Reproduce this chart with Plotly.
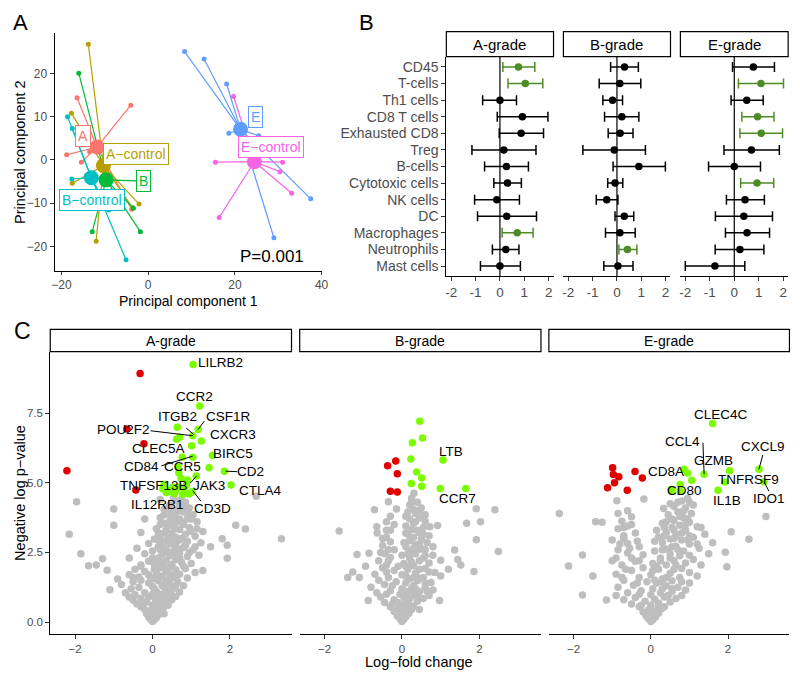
import plotly.graph_objects as go

FONT = "Liberation Sans, Arial, Helvetica, sans-serif"
# The page body has an 8px margin: shift every placement up/left by 8px
OFF = 8
W, H = 800, 676


def pxx(x):
    return (x - OFF) / W


def pxy(y):
    return 1 - (y - OFF) / H


# ---------------- Panel A : PCA ----------------
pca_groups = ["A", "A−control", "B", "B−control", "E", "E−control"]
pca_colors = ["#F8766D", "#B79F00", "#00BA38", "#00BFC4", "#619CFF", "#F564E3"]
pca_centroid_x = [-11.8, -10.3, -9.7, -13.1, 21.3, 24.5]
pca_centroid_y = [3.0, -1.3, -4.6, -4.1, 7.1, -0.4]
pca_x_A = [-16.4, -4.0, -18.8, -15.4, -3.8, -13.5]
pca_y_A = [14.4, 12.7, 1.2, -0.5, -11.4, 1.9]
pca_x_Actl = [-13.8, -17.7, -17.5, -2.1, -12.0, -3.6]
pca_y_Actl = [26.8, 10.8, -5.4, -10.2, -18.8, -11.0]
pca_x_B = [-16.0, -1.8, -12.9, -3.4, -14.2]
pca_y_B = [20.1, -16.6, -16.6, -11.2, -3.6]
pca_x_Bctl = [-18.6, -17.5, -17.6, -5.1, -9.1]
pca_y_Bctl = [10.0, 7.3, -4.4, -23.1, -11.6]
pca_x_E = [8.4, 12.9, 18.1, 18.6, 25.5, 37.5, 29.0]
pca_y_E = [25.1, 23.4, 17.6, 6.2, 5.6, -9.0, -18.0]
pca_x_Ectl = [19.7, 15.5, 31.0, 30.4, 33.1, 16.4]
pca_y_Ectl = [14.7, -0.5, -0.5, -2.7, -7.7, -13.3]
pca_label_x = [-15.0, -2.7, -1.0, -12.9, 24.7, 28.3]
pca_label_y = [5.6, 1.5, -4.9, -9.3, 10.0, 2.9]
pca_pvalue = "P=0.001"

# ---------------- Panel B : forest plots ----------------
cells = ["CD45", "T-cells", "Th1 cells", "CD8 T cells", "Exhausted CD8", "Treg", "B-cells",
         "Cytotoxic cells", "NK cells", "DC", "Macrophages", "Neutrophils", "Mast cells"]
grades = ["A-grade", "B-grade", "E-grade"]
a_est = [0.76, 1.04, 0.00, 0.92, 0.87, 0.16, 0.27, 0.31, -0.13, 0.28, 0.71, 0.24, 0.00]
a_lo = [0.12, 0.33, -0.71, -0.11, -0.03, -1.15, -0.63, -0.25, -1.04, -0.92, 0.09, -0.31, -0.80]
a_hi = [1.43, 1.76, 0.68, 1.97, 1.79, 1.48, 1.17, 0.88, 0.80, 1.50, 1.36, 0.78, 0.84]
a_sig = [1, 1, 0, 0, 0, 0, 0, 0, 0, 0, 1, 0, 0]
b_est = [0.31, 0.12, -0.18, 0.20, 0.13, -0.11, 0.90, -0.08, -0.42, 0.30, 0.12, 0.43, 0.04]
b_lo = [-0.26, -0.73, -0.58, -0.51, -0.36, -1.40, -0.16, -0.38, -0.85, -0.08, -0.47, 0.08, -0.54]
b_hi = [0.88, 0.98, 0.23, 0.90, 0.66, 1.17, 1.99, 0.24, 0.04, 0.69, 0.75, 0.82, 0.66]
b_sig = [0, 0, 0, 0, 0, 0, 0, 0, 0, 0, 0, 1, 0]
e_est = [0.78, 1.09, 0.51, 0.95, 1.10, 0.70, 0.00, 0.93, 0.44, 0.39, 0.52, 0.23, -0.79]
e_lo = [-0.07, 0.17, -0.13, 0.31, 0.23, -0.42, -1.05, 0.26, -0.32, -0.77, -0.36, -0.78, -2.00]
e_hi = [1.64, 2.01, 1.18, 1.62, 1.97, 1.84, 1.07, 1.61, 1.23, 1.56, 1.44, 1.21, 0.43]
e_sig = [0, 1, 0, 1, 1, 0, 0, 1, 0, 0, 0, 0, 0]
forest_ticks = [-2, -1, 0, 1, 2]
forest_ticktext = ["-2", "-1", "0", "1", "2"]

# ---------------- Panel C : volcano plots ----------------
a_gray = [
    (0.0, 0.02), (0.05, 0.08), (-0.05, 0.1), (0.1, 0.15), (-0.1, 0.18), (0.02, 0.22), (0.15, 0.25),
    (-0.15, 0.3), (0.2, 0.32), (0.06, 0.35), (-0.08, 0.4), (0.25, 0.42), (-0.2, 0.45), (0.12, 0.48),
    (-0.3, 0.55), (0.3, 0.55), (0.0, 0.6), (-0.4, 0.65), (0.18, 0.65), (0.4, 0.7), (-0.15, 0.72),
    (-0.5, 0.78), (0.08, 0.8), (0.5, 0.8), (-0.3, 0.85), (0.3, 0.88), (-0.6, 0.9), (0.6, 0.92),
    (0.0, 0.95), (-0.45, 0.98), (0.2, 1.0), (0.45, 1.0),
    (-0.7, 1.05), (-0.2, 1.05), (0.7, 1.08), (0.1, 1.1), (-1.1, 1.16), (0.35, 1.15), (-0.55, 1.2),
    (0.55, 1.22), (-0.35, 1.25), (0.0, 1.28), (0.8, 1.3), (0.25, 1.32), (-0.8, 1.35), (0.45, 1.38),
    (-0.1, 1.4), (0.65, 1.45), (-0.5, 1.45), (0.15, 1.48), (0.35, 1.5),
    (-0.9, 1.55), (0.0, 1.55), (0.9, 1.58), (0.5, 1.6), (-0.35, 1.62), (0.25, 1.65), (-1.17, 1.86),
    (-0.6, 1.7), (0.7, 1.72), (0.1, 1.75), (1.1, 1.78), (0.4, 1.8), (-0.2, 1.82), (0.6, 1.88),
    (-0.45, 1.9), (0.85, 1.92), (0.2, 1.95), (0.3, 1.98), (1.3, 1.85),
    (-1.65, 2.02), (-1.45, 2.05), (-1.29, 2.27), (-0.3, 2.05), (0.05, 2.05), (0.5, 2.08), (1.0, 2.1),
    (0.75, 2.15), (-0.1, 2.18), (0.35, 2.2), (1.93, 2.29), (0.6, 2.25), (0.15, 2.3), (-0.6, 2.3),
    (0.9, 2.35), (0.45, 2.38), (1.2, 2.4), (0.25, 2.42), (-0.2, 2.45), (0.7, 2.48), (-1.85, 2.45),
    (0.0, 2.55), (0.55, 2.55), (0.35, 2.6), (1.05, 2.6), (-0.4, 2.65), (0.8, 2.68), (0.15, 2.7),
    (1.93, 2.76), (0.6, 2.75), (0.45, 2.8), (-0.1, 2.82), (1.25, 2.85), (0.3, 2.88), (0.9, 2.9),
    (0.7, 2.95), (1.8, 2.99), (0.05, 2.98), (1.5, 2.7),
    (0.4, 3.02), (-2.15, 3.15), (0.6, 3.05), (1.1, 3.08), (0.2, 3.1), (0.85, 3.15), (0.5, 3.2),
    (-0.3, 3.22), (1.3, 3.25), (0.35, 3.3), (0.7, 3.32), (0.1, 3.35), (2.4, 3.34), (0.95, 3.4),
    (0.55, 3.45), (-1.0, 3.48), (2.15, 3.48), (3.33, 2.99),
    (0.3, 3.55), (0.75, 3.58), (1.15, 3.6), (0.45, 3.65), (0.9, 3.7), (0.2, 3.75), (0.6, 3.8),
    (1.05, 3.85), (0.4, 3.9), (0.8, 3.95), (-0.2, 3.7),
    (0.55, 4.0), (-1.0, 4.06), (0.3, 4.05), (0.95, 4.1), (0.7, 4.15), (0.45, 4.2), (0.85, 4.3),
    (-1.96, 4.32), (0.6, 4.35), (2.68, 4.52), (0.2, 4.4),
    (0.1, 0.7), (0.35, 0.95), (0.05, 1.2), (0.3, 1.25), (0.15, 1.6), (0.45, 1.7), (0.05, 1.9),
    (0.5, 2.0), (0.2, 2.15), (0.4, 2.5), (0.25, 2.8), (0.55, 3.0), (0.15, 3.2), (0.4, 3.45),
    (0.65, 3.6), (0.5, 3.9), (0.7, 2.3), (0.3, 2.0), (-0.05, 1.6), (0.6, 1.3),
    (0.3, 0.3), (-0.25, 0.6), (0.25, 0.75), (-0.1, 0.9), (0.5, 1.15), (-0.3, 1.5), (0.6, 1.65),
    (-0.1, 1.7), (0.35, 1.85), (0.8, 2.0), (0.1, 2.25), (0.55, 2.4), (0.95, 2.5), (0.2, 2.6),
    (0.65, 2.6), (1.1, 2.7), (0.45, 2.95), (0.75, 3.0), (0.3, 3.2), (1.0, 3.25), (0.6, 3.35),
    (0.8, 3.5), (0.5, 3.6), (1.0, 3.7), (0.3, 3.85), (0.65, 4.0), (0.8, 4.1), (0.4, 4.1),
    (0.55, 4.45), (0.75, 4.4), (0.9, 3.9), (0.15, 2.95), (-0.3, 2.0), (-0.5, 1.6), (0.0, 2.3),
    (0.85, 2.75), (1.15, 3.35), (0.7, 3.7), (0.2, 3.5), (0.0, 1.0), (0.4, 0.6), (0.15, 0.95),
]
a_up = [
    (1.05, 9.25), (1.22, 7.76), (1.18, 6.92), (0.64, 7.0), (1.04, 6.69), (0.70, 6.64), (0.62, 6.57),
    (1.26, 6.5), (1.01, 6.33), (1.55, 5.98), (0.77, 5.92), (1.04, 5.92), (1.46, 5.54), (1.86, 5.42),
    (1.13, 5.25), (2.03, 4.92), (1.02, 4.68), (0.66, 5.57), (0.68, 5.35), (0.74, 5.16), (0.53, 4.85),
    (0.45, 4.73), (0.36, 4.65), (0.57, 4.62), (0.78, 4.58), (0.95, 4.6), (0.87, 4.9), (0.70, 4.85),
    (0.48, 4.68), (0.27, 4.78), (0.6, 4.72), (0.82, 4.75), (0.3, 4.95), (0.9, 5.1),
]
a_down = [(-0.32, 8.93), (-0.66, 6.93), (-0.22, 6.40), (-2.21, 5.43), (-0.43, 4.74)]

b_gray = [
    (0.0, 0.02), (0.05, 0.1), (-0.05, 0.12), (0.1, 0.2), (-0.12, 0.22), (0.0, 0.3), (0.18, 0.32),
    (-0.2, 0.38), (0.08, 0.42), (0.25, 0.45), (-0.1, 0.48),
    (-0.3, 0.55), (0.3, 0.58), (0.0, 0.62), (-0.45, 0.7), (0.15, 0.7), (0.4, 0.75), (-0.87, 0.77),
    (0.97, 0.77), (-0.2, 0.8), (0.55, 0.85), (0.05, 0.88), (-0.55, 0.9), (0.3, 0.95), (-0.05, 1.0),
    (0.7, 0.95),
    (-0.65, 1.05), (0.2, 1.05), (0.45, 1.1), (-0.3, 1.12), (0.8, 1.15), (0.0, 1.2), (-0.8, 1.25),
    (0.6, 1.25), (0.3, 1.3), (-0.45, 1.35), (0.1, 1.4), (0.75, 1.42), (-0.15, 1.45), (0.4, 1.48),
    (-0.6, 1.5),
    (-1.4, 1.6), (-1.1, 1.6), (-1.27, 1.8), (0.2, 1.55), (-0.35, 1.6), (0.55, 1.6), (1.0, 1.65),
    (0.0, 1.7), (-0.7, 1.72), (0.35, 1.75), (0.85, 1.78), (-0.2, 1.85), (0.15, 1.9), (1.86, 1.82),
    (0.6, 1.92), (-0.5, 1.95), (1.2, 1.9),
    (-0.94, 2.0), (0.3, 2.02), (-0.4, 2.05), (1.52, 2.05), (0.05, 2.1), (0.7, 2.12), (-0.6, 2.2),
    (0.45, 2.2), (1.0, 2.22), (1.44, 2.25), (0.2, 2.3), (-0.3, 2.32), (-1.16, 2.43), (-0.85, 2.47),
    (0.6, 2.38), (0.35, 2.45), (-0.45, 2.45),
    (1.36, 2.59), (0.25, 2.55), (-0.35, 2.6), (0.5, 2.62), (2.49, 2.53), (0.1, 2.7), (0.8, 2.7),
    (-0.5, 2.75), (0.35, 2.78), (0.65, 2.85), (-0.3, 2.88), (0.2, 2.92), (1.92, 2.96), (0.5, 2.98),
    (-0.4, 3.05), (0.3, 3.05), (0.7, 3.1), (-0.64, 3.2), (0.15, 3.15), (0.45, 3.22), (-0.3, 3.3),
    (0.25, 3.32), (0.92, 3.47), (0.72, 3.42), (-0.65, 3.42), (0.55, 3.4), (-1.62, 3.27), (0.1, 3.45),
    (1.67, 3.55), (2.03, 3.6), (0.3, 3.55), (-0.4, 3.6), (0.6, 3.62), (0.2, 3.7), (0.45, 3.75),
    (-0.3, 3.8), (0.35, 3.9), (0.15, 3.95), (0.6, 3.85),
    (-0.71, 4.03), (-0.14, 4.06), (1.92, 4.07), (2.4, 4.03), (0.3, 4.05), (0.5, 4.1), (0.2, 4.2),
    (-0.35, 4.32), (0.31, 4.63), (0.4, 4.3), (0.25, 4.45),
    (0.1, 0.55), (0.2, 0.85), (0.1, 1.1), (0.3, 1.6), (0.1, 2.0), (0.4, 2.6), (0.25, 3.0),
    (0.4, 3.3), (0.45, 1.9), (0.15, 2.45), (-0.1, 2.0), (0.35, 1.2), (-0.35, 2.2), (-0.4, 3.3),
    (0.15, 0.3), (-0.25, 0.65), (0.4, 0.95), (-0.4, 1.0), (0.25, 1.2), (0.6, 1.4), (-0.25, 1.3),
    (0.1, 1.65), (0.7, 1.8), (-0.4, 1.8), (0.25, 2.15), (0.55, 2.3), (-0.2, 2.6), (0.3, 2.65),
    (0.6, 2.6), (0.05, 2.85), (0.45, 2.8), (0.1, 3.2), (0.55, 3.15), (0.35, 3.6), (0.45, 4.0),
    (0.1, 3.8), (-0.5, 3.0), (-0.2, 3.5), (0.25, 4.3), (0.8, 2.4), (0.4, 1.6), (0.0, 2.4),
    (-0.55, 2.5), (0.65, 1.1), (-0.1, 0.7), (0.45, 0.45),
]
b_up = [(0.46, 7.21), (0.53, 6.61), (0.27, 6.44), (0.23, 5.86), (1.06, 5.82), (0.38, 5.39),
        (0.51, 5.17), (0.24, 4.98), (0.51, 4.88), (0.99, 4.8), (1.65, 4.8)]
b_down = [(-0.16, 5.78), (-0.37, 5.61), (-0.12, 5.33), (-0.3, 4.7), (-0.12, 4.67)]

e_gray = [
    (0.0, 0.02), (0.05, 0.08), (-0.06, 0.12), (0.12, 0.18), (-0.12, 0.22), (0.02, 0.28), (0.2, 0.32),
    (-0.2, 0.36), (0.1, 0.4), (-0.05, 0.45), (0.28, 0.48),
    (-0.3, 0.55), (0.35, 0.55), (0.0, 0.6), (-0.5, 0.65), (0.2, 0.68), (0.5, 0.72), (-0.15, 0.75),
    (-0.7, 0.8), (-1.15, 0.79), (0.1, 0.82), (0.65, 0.85), (-0.4, 0.88), (0.35, 0.9), (-1.77, 0.97),
    (-0.9, 0.95), (0.8, 0.95), (0.0, 0.98),
    (-0.6, 1.05), (0.25, 1.05), (0.55, 1.1), (-0.25, 1.12), (0.9, 1.15), (0.05, 1.2), (-0.85, 1.25),
    (0.7, 1.25), (0.4, 1.3), (-0.45, 1.32), (0.15, 1.4), (1.0, 1.4), (-0.1, 1.45), (0.55, 1.48),
    (-0.7, 1.5),
    (-1.5, 1.65), (0.3, 1.55), (-0.3, 1.6), (0.75, 1.6), (1.2, 1.65), (0.0, 1.7), (-0.9, 1.72),
    (0.5, 1.75), (1.0, 1.78), (-0.5, 1.85), (0.2, 1.9), (0.8, 1.92), (-0.2, 1.95), (1.97, 1.99),
    (-2.13, 2.01),
    (-0.75, 2.05), (0.4, 2.05), (1.3, 2.05), (0.05, 2.1), (0.9, 2.12), (-0.4, 2.18), (0.6, 2.2),
    (1.1, 2.25), (-0.9, 2.3), (0.25, 2.3), (0.75, 2.38), (1.93, 2.51), (-1.77, 2.41), (-0.2, 2.42),
    (0.5, 2.45), (1.5, 2.45), (-0.6, 2.48),
    (0.1, 2.55), (0.85, 2.55), (-0.85, 2.6), (0.4, 2.62), (1.25, 2.65), (-0.3, 2.7), (0.65, 2.72),
    (1.0, 2.8), (-0.6, 2.82), (0.3, 2.85), (1.6, 2.85), (2.54, 2.97), (0.8, 2.95), (-1.0, 2.95),
    (0.5, 2.98),
    (0.2, 3.05), (1.1, 3.05), (-0.7, 3.1), (0.65, 3.12), (1.4, 3.15), (-0.4, 3.2), (0.4, 3.22),
    (2.08, 3.24), (0.9, 3.3), (-0.85, 3.35), (0.55, 3.4), (1.2, 3.42), (-0.6, 3.45), (0.75, 3.48),
    (-1.43, 3.6), (-1.26, 3.58), (0.3, 3.55), (1.0, 3.58), (-0.75, 3.62), (0.6, 3.65), (0.85, 3.75),
    (-0.5, 3.78), (0.45, 3.85), (2.98, 3.79), (-2.37, 3.9), (1.05, 3.9), (0.7, 3.95), (-0.85, 3.9),
    (0.33, 4.08), (0.9, 4.1), (0.6, 4.15), (-0.88, 4.36), (-0.18, 4.42), (1.0, 4.3), (0.8, 4.35),
    (0.5, 4.25), (0.95, 4.45),
    (0.2, 0.6), (0.3, 1.2), (0.4, 1.6), (0.6, 1.9), (0.15, 2.0), (0.5, 2.3), (0.7, 2.6), (0.6, 3.0),
    (0.8, 3.2), (0.35, 3.4), (0.55, 3.7), (0.9, 3.5), (-0.35, 2.9), (-0.5, 2.3), (0.1, 1.5),
    (-0.65, 1.9), (-0.7, 3.0), (-0.5, 3.5),
    (0.15, 0.3), (-0.25, 0.6), (0.45, 0.95), (-0.3, 1.0), (0.3, 1.45), (0.8, 1.45), (-0.35, 1.4),
    (0.05, 1.85), (0.65, 2.05), (1.0, 2.4), (0.3, 2.6), (0.55, 2.7), (0.95, 2.95), (0.1, 2.9),
    (0.35, 3.1), (1.0, 3.1), (0.6, 3.3), (0.15, 3.3), (0.75, 3.8), (0.95, 3.7), (0.4, 3.6),
    (0.85, 4.0), (-0.6, 4.0), (-0.7, 3.4), (-0.8, 2.8), (-0.55, 2.65), (-1.0, 2.2), (-0.75, 1.6),
    (0.55, 1.2), (0.25, 2.2), (1.2, 2.8), (1.3, 3.4), (-0.3, 2.2), (0.7, 4.3), (1.1, 4.2),
]
e_up = [(1.6, 7.13), (2.04, 5.43), (1.38, 5.31), (0.86, 5.49), (0.95, 5.35), (1.06, 5.09),
        (0.76, 4.94), (0.53, 4.76), (1.74, 4.73), (1.92, 5.03), (2.8, 5.49), (2.93, 5.04),
        (0.53, 4.73), (0.76, 4.7)]
e_down = [(-0.99, 5.54), (-0.97, 5.3), (-0.83, 5.22), (-0.94, 5.0), (-1.12, 4.82), (-0.41, 5.41),
          (-0.22, 5.17), (-0.61, 4.73)]

a_labels = ["LILRB2", "CCR2", "ITGB2", "CSF1R", "POU2F2", "CXCR3", "CLEC5A", "BIRC5", "CD84",
            "CCR5", "CD2", "TNFSF13B", "JAK3", "CTLA4", "IL12RB1", "CD3D"]
a_label_x = [1.75, 1.09, 0.65, 1.95, -0.76, 2.08, 0.15, 2.08, -0.28, 0.77, 2.54, 0.04, 1.46, 2.8, 0.14, 1.54]
a_label_y = [9.32, 8.09, 7.4, 7.4, 6.9, 6.74, 6.25, 6.06, 5.57, 5.57, 5.42, 4.9, 4.9, 4.73, 4.23, 4.08]
a_seg = [((0.87, 6.97), (1.06, 6.74)), ((1.34, 7.22), (1.18, 6.92)), ((-0.05, 6.87), (1.04, 6.69)),
         ((0.23, 5.61), (1.04, 5.96)), ((1.89, 5.42), (2.19, 5.40)), ((0.97, 4.98), (1.14, 5.25)),
         ((1.04, 4.72), (1.25, 4.34))]
b_labels = ["LTB", "CCR7"]
b_label_x = [1.26, 1.43]
b_label_y = [6.14, 4.44]
e_labels = ["CLEC4C", "CCL4", "GZMB", "CXCL9", "CD8A", "TNFRSF9", "CD80", "IL1B", "IDO1"]
e_label_x = [1.81, 0.82, 1.63, 2.9, 0.39, 2.53, 0.86, 1.96, 3.07]
e_label_y = [7.46, 6.48, 5.79, 6.3, 5.39, 5.12, 4.73, 4.38, 4.44]
e_seg = [((1.35, 6.44), (1.38, 5.31)), ((2.9, 6.0), (2.8, 5.49)), ((2.93, 5.04), (3.06, 4.7))]

GRAY = "#BEBEBE"
UP = "#7CFC00"
DOWN = "#E00000"
SIG = "#4E8B26"
AXTXT = "#4D4D4D"

fig = go.Figure()

# ---- PCA traces ----
pca_xs = [pca_x_A, pca_x_Actl, pca_x_B, pca_x_Bctl, pca_x_E, pca_x_Ectl]
pca_ys = [pca_y_A, pca_y_Actl, pca_y_B, pca_y_Bctl, pca_y_E, pca_y_Ectl]
for i, g in enumerate(pca_groups):
    cx, cy = pca_centroid_x[i], pca_centroid_y[i]
    lx, ly = [], []
    for x, y in zip(pca_xs[i], pca_ys[i]):
        lx += [cx, x, None]
        ly += [cy, y, None]
    fig.add_trace(go.Scatter(x=lx, y=ly, mode="lines", line=dict(color=pca_colors[i], width=1.2),
                             xaxis="x", yaxis="y", showlegend=False, hoverinfo="skip"))
    fig.add_trace(go.Scatter(x=pca_xs[i], y=pca_ys[i], mode="markers",
                             marker=dict(color=pca_colors[i], size=5),
                             xaxis="x", yaxis="y", showlegend=False))
fig.add_trace(go.Scatter(x=[pca_centroid_x[2], pca_label_x[2]], y=[pca_centroid_y[2], pca_label_y[2]],
                         mode="lines", line=dict(color=pca_colors[2], width=1.2),
                         xaxis="x", yaxis="y", showlegend=False, hoverinfo="skip"))
for i, g in enumerate(pca_groups):
    fig.add_trace(go.Scatter(x=[pca_centroid_x[i]], y=[pca_centroid_y[i]], mode="markers",
                             marker=dict(color=pca_colors[i], size=15),
                             xaxis="x", yaxis="y", showlegend=False))

# ---- Forest traces ----
forest_sets = [(a_est, a_lo, a_hi, a_sig), (b_est, b_lo, b_hi, b_sig), (e_est, e_lo, e_hi, e_sig)]
for k, (est, lo, hi, sig) in enumerate(forest_sets):
    xa = "x%d" % (k + 2)
    ya = "y%d" % (k + 2)
    for flag, col in [(0, "black"), (1, SIG)]:
        idx = [i for i in range(len(cells)) if sig[i] == flag]
        if not idx:
            continue
        fig.add_trace(go.Scatter(
            x=[est[i] for i in idx], y=idx, mode="markers",
            marker=dict(color=col, size=7.5),
            error_x=dict(type="data", symmetric=False,
                         array=[hi[i] - est[i] for i in idx],
                         arrayminus=[est[i] - lo[i] for i in idx],
                         color=col, thickness=1.5, width=5),
            xaxis=xa, yaxis=ya, showlegend=False))

# ---- Volcano traces ----
volc = [(a_gray, a_up, a_down), (b_gray, b_up, b_down), (e_gray, e_up, e_down)]
for k, (gr, up, dn) in enumerate(volc):
    xa = "x%d" % (k + 5)
    ya = "y%d" % (k + 5)
    for pts, col in [(gr, GRAY), (up, UP), (dn, DOWN)]:
        fig.add_trace(go.Scatter(x=[p[0] for p in pts], y=[p[1] for p in pts], mode="markers",
                                 marker=dict(color=col, size=7.5, line=dict(width=0)),
                                 xaxis=xa, yaxis=ya, showlegend=False))

# ---------------- layout ----------------
def ax(domain, rng, **kw):
    d = dict(domain=domain, range=rng, showgrid=False, zeroline=False, showline=True,
             linecolor="black", linewidth=1, ticks="outside", ticklen=4, tickcolor="#333333",
             tickfont=dict(family=FONT, size=11, color=AXTXT))
    d.update(kw)
    return d

layout = dict(
    width=W, height=H, margin=dict(l=0, r=0, t=0, b=0),
    paper_bgcolor="white", plot_bgcolor="rgba(0,0,0,0)",
    font=dict(family=FONT),
)
layout["xaxis"] = ax([pxx(52), pxx(323)], [-21.6, 40.2], tickvals=[-20, 0, 20, 40],
                     anchor="y", ticklen=3, tickfont=dict(family=FONT, size=12, color=AXTXT))
layout["yaxis"] = ax([pxy(271), pxy(33)], [-25.7, 29.4], tickvals=[-20, -10, 0, 10, 20],
                     anchor="x", tickfont=dict(family=FONT, size=12, color=AXTXT))
fx = [(448.3, 556.7), (566.7, 675.0), (685.0, 794.0)]
for k in range(3):
    n = k + 2
    layout["xaxis%d" % n] = ax([pxx(fx[k][0]), pxx(fx[k][1])], [-2.2, 2.2],
                               tickvals=forest_ticks, ticktext=forest_ticktext,
                               anchor="y%d" % n,
                               tickfont=dict(family=FONT, size=13.5, color=AXTXT))
    yk = ax([pxy(276), pxy(57)], [12.6, -0.6], anchor="x%d" % n,
            tickvals=list(range(len(cells))), ticktext=cells,
            tickfont=dict(family=FONT, size=14, color=AXTXT))
    if k > 0:
        yk.update(showline=False, ticks="", showticklabels=False)
    layout["yaxis%d" % n] = yk
vx = [(47.7, 291.7), (300.0, 544.0), (552.0, 795.3)]
for k in range(3):
    n = k + 5
    layout["xaxis%d" % n] = ax([pxx(vx[k][0]), pxx(vx[k][1])], [-2.64, 3.59],
                               tickvals=[-2, 0, 2], anchor="y%d" % n,
                               tickfont=dict(family=FONT, size=11.5, color=AXTXT))
    yk = ax([pxy(634.3), pxy(351.7)], [-0.44, 9.71], anchor="x%d" % n,
            tickvals=[0, 2.5, 5, 7.5], ticktext=["0.0", "2.5", "5.0", "7.5"],
            tickfont=dict(family=FONT, size=11.5, color=AXTXT))
    if k > 0:
        yk.update(showline=False, ticks="", showticklabels=False)
    layout["yaxis%d" % n] = yk

fig.update_layout(**layout)

shapes = []
annotations = []

for k in range(3):
    n = k + 2
    shapes.append(dict(type="line", xref="x%d" % n, yref="y%d domain" % n, x0=0, x1=0, y0=0, y1=1,
                       line=dict(color="black", width=1.2)))


def strip(x0, x1, y0, y1, text, size):
    shapes.append(dict(type="rect", xref="paper", yref="paper", x0=pxx(x0), x1=pxx(x1),
                       y0=pxy(y1), y1=pxy(y0), line=dict(color="black", width=1.2),
                       fillcolor="white", layer="above"))
    annotations.append(dict(xref="paper", yref="paper", x=pxx((x0 + x1) / 2), y=pxy((y0 + y1) / 2),
                            text=text, showarrow=False, font=dict(family=FONT, size=size, color="black"),
                            xanchor="center", yanchor="middle"))


for k in range(3):
    strip(fx[k][0], fx[k][1], 31.7, 56.7, grades[k], 15)
    strip(vx[k][0], vx[k][1], 329.3, 351.7, grades[k], 14)

for i, g in enumerate(pca_groups):
    annotations.append(dict(xref="x", yref="y", x=pca_label_x[i], y=pca_label_y[i], text=g,
                            showarrow=False, font=dict(family=FONT, size=14, color=pca_colors[i]),
                            bgcolor="white", bordercolor=pca_colors[i], borderwidth=1, borderpad=2))
annotations.append(dict(xref="x", yref="y", x=28.5, y=-22.4, text=pca_pvalue, showarrow=False,
                        font=dict(family=FONT, size=17, color="black")))

lab_sets = [(a_labels, a_label_x, a_label_y, a_seg), (b_labels, b_label_x, b_label_y, []),
            (e_labels, e_label_x, e_label_y, e_seg)]
for k, (labs, lxs, lys, segs) in enumerate(lab_sets):
    n = k + 5
    for (p0, p1) in segs:
        shapes.append(dict(type="line", xref="x%d" % n, yref="y%d" % n, x0=p0[0], y0=p0[1],
                           x1=p1[0], y1=p1[1], line=dict(color="black", width=1)))
    for t, x, y in zip(labs, lxs, lys):
        annotations.append(dict(xref="x%d" % n, yref="y%d" % n, x=x, y=y, text=t, showarrow=False,
                                font=dict(family=FONT, size=13.5, color="black")))


def txt(x, y, text, size, color="black", angle=0, yanchor="middle"):
    annotations.append(dict(xref="paper", yref="paper", x=pxx(x), y=pxy(y), text=text,
                            showarrow=False, textangle=angle, xanchor="center", yanchor=yanchor,
                            font=dict(family=FONT, size=size, color=color)))


txt(187.5, 301, "Principal component 1", 14)
txt(17, 152, "Principal component 2", 14.5, angle=-90)
txt(421, 662, "Log−fold change", 14.5)
txt(17, 493, "Negative log p−value", 14.5, angle=-90)
txt(18, 8, "A", 22, yanchor="top")
txt(368, 8, "B", 22, yanchor="top")
txt(20, 331, "C", 23)

fig.update_layout(shapes=shapes, annotations=annotations)
fig.write_html("out.html")
